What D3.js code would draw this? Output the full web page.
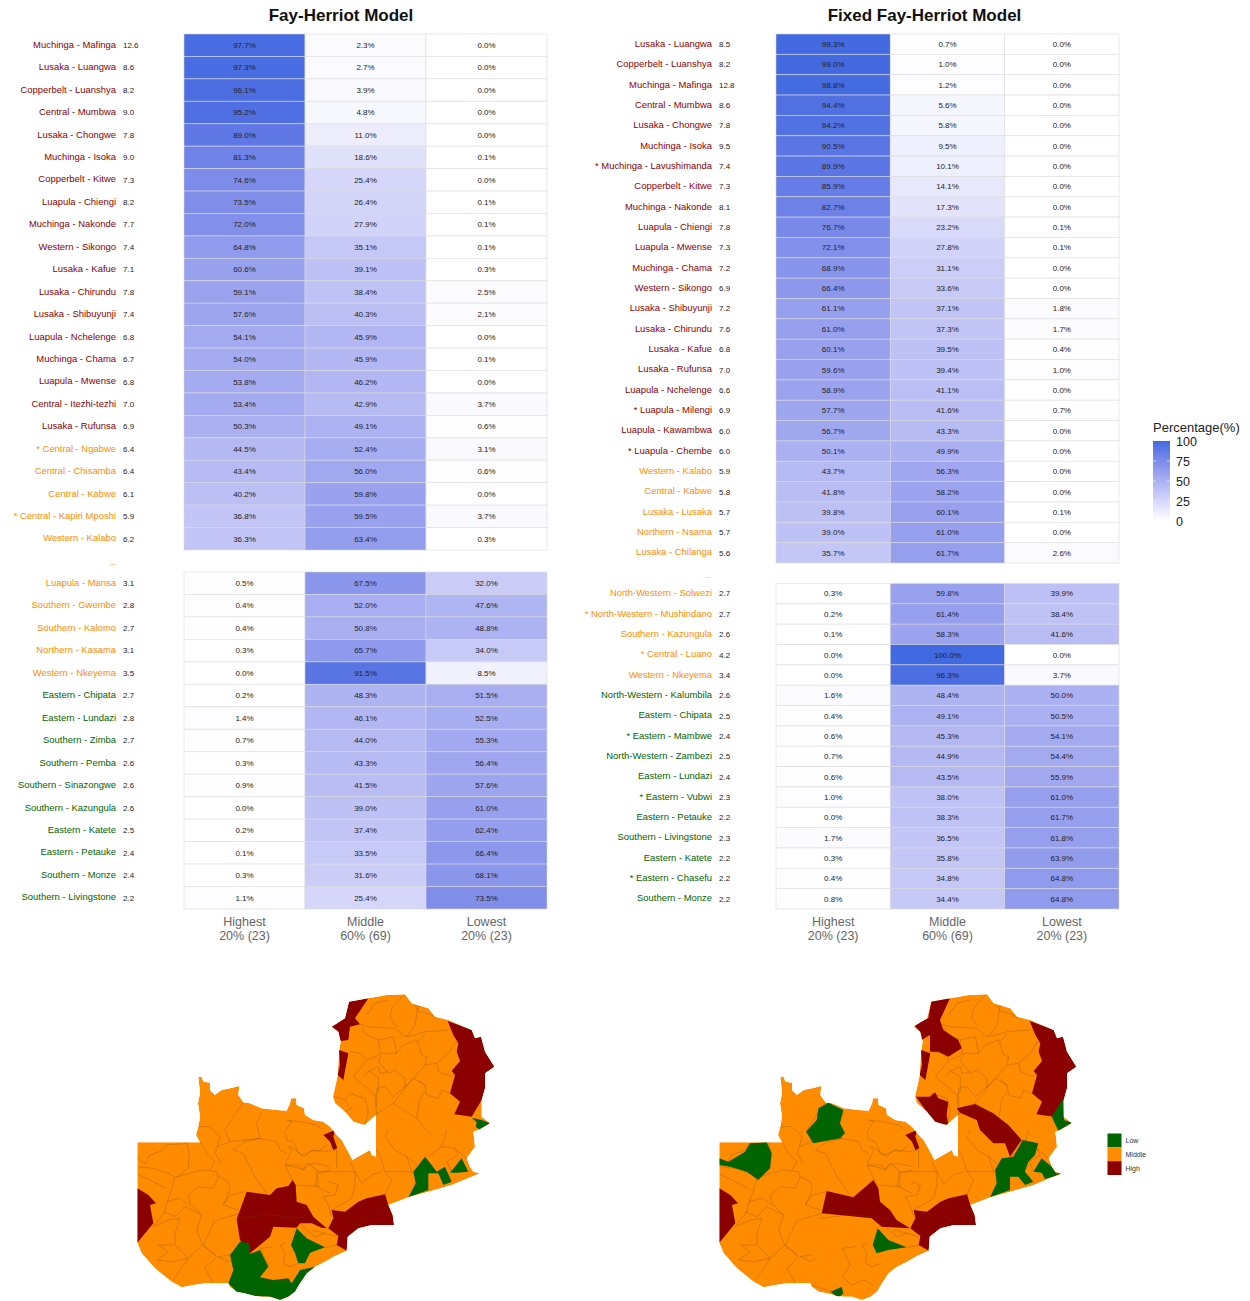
<!DOCTYPE html>
<html>
<head>
<meta charset="utf-8">
<script src="https://d3js.org/d3.v7.min.js"></script>
<style>
  html, body { margin: 0; padding: 0; background: #fff; }
  svg { display: block; font-family: "Liberation Sans", Arial, sans-serif; }
</style>
</head>
<body>
<div id="chart"></div>
<script>
// ---- Fay-Herriot, top block
var fhTopLabels = ["Muchinga - Mafinga","Lusaka - Luangwa","Copperbelt - Luanshya","Central - Mumbwa","Lusaka - Chongwe","Muchinga - Isoka","Copperbelt - Kitwe","Luapula - Chiengi","Muchinga - Nakonde","Western - Sikongo","Lusaka - Kafue","Lusaka - Chirundu","Lusaka - Shibuyunji","Luapula - Nchelenge","Muchinga - Chama","Luapula - Mwense","Central - Itezhi-tezhi","Lusaka - Rufunsa","* Central - Ngabwe","Central - Chisamba","Central - Kabwe","* Central - Kapiri Mposhi","Western - Kalabo"];
var fhTopMeans = [12.6,8.6,8.2,9.0,7.8,9.0,7.3,8.2,7.7,7.4,7.1,7.8,7.4,6.8,6.7,6.8,7.0,6.9,6.4,6.4,6.1,5.9,6.2];
var fhTopHighest = [97.7,97.3,96.1,95.2,89.0,81.3,74.6,73.5,72.0,64.8,60.6,59.1,57.6,54.1,54.0,53.8,53.4,50.3,44.5,43.4,40.2,36.8,36.3];
var fhTopMiddle = [2.3,2.7,3.9,4.8,11.0,18.6,25.4,26.4,27.9,35.1,39.1,38.4,40.3,45.9,45.9,46.2,42.9,49.1,52.4,56.0,59.8,59.5,63.4];
var fhTopLowest = [0.0,0.0,0.0,0.0,0.0,0.1,0.0,0.1,0.1,0.1,0.3,2.5,2.1,0.0,0.1,0.0,3.7,0.6,3.1,0.6,0.0,3.7,0.3];
var fhTopClasses = ["High","High","High","High","High","High","High","High","High","High","High","High","High","High","High","High","High","High","Middle","Middle","Middle","Middle","Middle"];

// ---- Fay-Herriot, bottom block
var fhBottomLabels = ["Luapula - Mansa","Southern - Gwembe","Southern - Kalomo","Northern - Kasama","Western - Nkeyema","Eastern - Chipata","Eastern - Lundazi","Southern - Zimba","Southern - Pemba","Southern - Sinazongwe","Southern - Kazungula","Eastern - Katete","Eastern - Petauke","Southern - Monze","Southern - Livingstone"];
var fhBottomMeans = [3.1,2.8,2.7,3.1,3.5,2.7,2.8,2.7,2.6,2.6,2.6,2.5,2.4,2.4,2.2];
var fhBottomHighest = [0.5,0.4,0.4,0.3,0.0,0.2,1.4,0.7,0.3,0.9,0.0,0.2,0.1,0.3,1.1];
var fhBottomMiddle = [67.5,52.0,50.8,65.7,91.5,48.3,46.1,44.0,43.3,41.5,39.0,37.4,33.5,31.6,25.4];
var fhBottomLowest = [32.0,47.6,48.8,34.0,8.5,51.5,52.5,55.3,56.4,57.6,61.0,62.4,66.4,68.1,73.5];
var fhBottomClasses = ["Middle","Middle","Middle","Middle","Middle","Low","Low","Low","Low","Low","Low","Low","Low","Low","Low"];

// ---- Fixed Fay-Herriot, top block
var ffhTopLabels = ["Lusaka - Luangwa","Copperbelt - Luanshya","Muchinga - Mafinga","Central - Mumbwa","Lusaka - Chongwe","Muchinga - Isoka","* Muchinga - Lavushimanda","Copperbelt - Kitwe","Muchinga - Nakonde","Luapula - Chiengi","Luapula - Mwense","Muchinga - Chama","Western - Sikongo","Lusaka - Shibuyunji","Lusaka - Chirundu","Lusaka - Kafue","Lusaka - Rufunsa","Luapula - Nchelenge","* Luapula - Milengi","Luapula - Kawambwa","* Luapula - Chembe","Western - Kalabo","Central - Kabwe","Lusaka - Lusaka","Northern - Nsama","Lusaka - Chilanga"];
var ffhTopMeans = [8.5,8.2,12.8,8.6,7.8,9.5,7.4,7.3,8.1,7.8,7.3,7.2,6.9,7.2,7.6,6.8,7.0,6.6,6.9,6.0,6.0,5.9,5.8,5.7,5.7,5.6];
var ffhTopHighest = [99.3,99.0,98.8,94.4,94.2,90.5,89.9,85.9,82.7,76.7,72.1,68.9,66.4,61.1,61.0,60.1,59.6,58.9,57.7,56.7,50.1,43.7,41.8,39.8,39.0,35.7];
var ffhTopMiddle = [0.7,1.0,1.2,5.6,5.8,9.5,10.1,14.1,17.3,23.2,27.8,31.1,33.6,37.1,37.3,39.5,39.4,41.1,41.6,43.3,49.9,56.3,58.2,60.1,61.0,61.7];
var ffhTopLowest = [0.0,0.0,0.0,0.0,0.0,0.0,0.0,0.0,0.0,0.1,0.1,0.0,0.0,1.8,1.7,0.4,1.0,0.0,0.7,0.0,0.0,0.0,0.0,0.1,0.0,2.6];
var ffhTopClasses = ["High","High","High","High","High","High","High","High","High","High","High","High","High","High","High","High","High","High","High","High","High","Middle","Middle","Middle","Middle","Middle"];

// ---- Fixed Fay-Herriot, bottom block
var ffhBottomLabels = ["North-Western - Solwezi","* North-Western - Mushindano","Southern - Kazungula","* Central - Luano","Western - Nkeyema","North-Western - Kalumbila","Eastern - Chipata","* Eastern - Mambwe","North-Western - Zambezi","Eastern - Lundazi","* Eastern - Vubwi","Eastern - Petauke","Southern - Livingstone","Eastern - Katete","* Eastern - Chasefu","Southern - Monze"];
var ffhBottomMeans = [2.7,2.7,2.6,4.2,3.4,2.6,2.5,2.4,2.5,2.4,2.3,2.2,2.3,2.2,2.2,2.2];
var ffhBottomHighest = [0.3,0.2,0.1,0.0,0.0,1.6,0.4,0.6,0.7,0.6,1.0,0.0,1.7,0.3,0.4,0.8];
var ffhBottomMiddle = [59.8,61.4,58.3,100.0,96.3,48.4,49.1,45.3,44.9,43.5,38.0,38.3,36.5,35.8,34.8,34.4];
var ffhBottomLowest = [39.9,38.4,41.6,0.0,3.7,50.0,50.5,54.1,54.4,55.9,61.0,61.7,61.8,63.9,64.8,64.8];
var ffhBottomClasses = ["Middle","Middle","Middle","Middle","Middle","Low","Low","Low","Low","Low","Low","Low","Low","Low","Low","Low"];

var columns = ["Highest","Middle","Lowest"];
var columnShares = ["20% (23)","60% (69)","20% (23)"];
var legendTicks = [0,25,50,75,100];
var mapLegendClasses = ["Low","Middle","High"];

// ---- map geometry, in map units (shared by both maps)
var countryOutline = [[52,487],[240,487],[228,465],[235,440],[240,410],[234,370],[240,340],[235,290],[245,290],[250,305],[270,308],[270,330],[285,345],[305,330],[330,325],[358,318],[355,345],[370,367],[390,370],[425,385],[470,390],[500,392],[510,370],[513,355],[528,355],[530,375],[552,385],[555,405],[580,420],[610,425],[630,440],[650,465],[665,480],[690,525],[697,540],[750,510],[755,525],[768,530],[768,405],[745,425],[733,435],[700,425],[675,395],[645,370],[639,350],[650,300],[653,285],[657,215],[662,185],[655,155],[635,140],[675,115],[687,65],[745,55],[800,45],[855,43],[875,70],[925,85],[945,110],[985,120],[1055,150],[1065,175],[1083,170],[1095,215],[1123,260],[1095,280],[1095,325],[1085,360],[1085,410],[1110,430],[1075,450],[1060,455],[1065,500],[1040,535],[1050,560],[1060,575],[1080,580],[995,615],[925,635],[865,652],[805,675],[818,705],[822,735],[755,735],[715,745],[683,770],[680,812],[645,828],[615,845],[585,860],[560,880],[540,910],[525,935],[505,950],[480,960],[450,950],[425,950],[405,948],[375,940],[350,935],[330,920],[325,910],[285,910],[255,910],[220,915],[185,922],[155,905],[105,865],[65,820],[52,788]];

// boundaries traced in three overlapping sheets, each with its own origin in map units
var linesWestSheet = { du: 30, dv: 270, lines: [
  [[22,265],[45,280],[60,255],[100,240],[110,225],[170,220],[178,250],[175,295],[140,322]],
  [[22,290],[70,295],[115,310],[135,322],[215,300],[260,305],[265,320],[295,335],[300,360],[280,405],[325,420]],
  [[22,312],[90,345],[107,355]],
  [[135,322],[125,360],[110,400],[105,425],[70,470]],
  [[175,375],[205,350],[250,355],[265,320]],
  [[175,375],[180,400],[215,435],[200,480],[218,525]],
  [[110,395],[150,385],[180,405]],
  [[280,405],[300,375],[345,365]],
  [[100,425],[135,440],[165,410],[215,435]],
  [[70,470],[115,450],[150,445],[135,490],[135,525],[175,565],[130,630]],
  [[85,525],[130,525]],
  [[85,525],[115,545],[80,570],[125,575],[175,565],[218,525],[255,555]],
  [[255,450],[220,525],[260,560],[225,595],[250,640]],
  [[265,560],[295,575],[315,565]],
  [[300,555],[265,560]],
  [[330,430],[260,450]],
  [[198,170],[240,170],[270,200],[262,230],[300,215],[285,180],[320,125],[340,97]],
  [[210,215],[230,250],[255,275],[240,300]],
  [[262,230],[255,250],[265,265],[270,280]],
  [[300,215],[390,205],[345,215],[310,240],[340,250],[375,320],[410,370]],
  [[390,205],[380,160],[395,125]],
  [[385,205],[440,215],[450,240],[470,250]],
  [[470,150],[485,155],[465,185],[470,210],[490,215],[505,250],[525,260],[545,240],[565,245],[590,225]],
  [[465,285],[510,285],[520,300],[530,285],[555,280],[600,290]],
  [[465,285],[495,345]],
  [[470,150],[510,155],[560,165],[580,180]],
  [[600,300],[565,310],[555,345],[580,360],[600,370]]
]};
var linesNorthSheet = { du: 615, dv: 15, lines: [
  [[105,118],[130,125],[210,130],[240,155],[270,150],[300,140],[370,135]],
  [[125,90],[150,55],[190,45]],
  [[235,30],[200,70],[195,100],[215,125]],
  [[270,60],[280,80],[310,85],[335,100]],
  [[280,60],[270,120],[245,155]],
  [[110,130],[125,150],[160,165],[165,205],[155,215],[125,225],[85,275]],
  [[75,200],[105,205],[125,225]],
  [[160,165],[205,155],[215,205],[235,180],[275,165],[290,210],[305,215],[300,240],[265,280],[235,310]],
  [[215,205],[170,205],[160,230],[190,265],[210,255],[240,280],[240,310]],
  [[85,275],[115,300],[150,330],[155,390]],
  [[115,275],[130,258],[160,275],[160,320],[150,330]],
  [[130,258],[160,245],[165,265],[190,260]],
  [[155,365],[155,310],[180,305],[205,335],[235,310]],
  [[30,335],[60,345],[75,325],[120,340],[130,380],[120,420]],
  [[60,350],[80,370],[60,380]],
  [[150,390],[205,355],[240,310],[265,280],[300,300],[305,330],[340,340],[350,315],[375,325]],
  [[205,355],[275,400],[300,430],[320,450]],
  [[280,285],[300,300]],
  [[275,400],[285,340],[300,320]],
  [[300,240],[335,235],[340,260],[380,275],[390,260]],
  [[335,235],[375,200],[390,170],[400,175]],
  [[280,170],[300,145]]
]};
var linesSouthEastSheet = { du: 315, dv: 450, lines: [
  [[453,60],[465,75],[480,125],[565,125]],
  [[480,125],[500,150],[480,195]],
  [[490,0],[480,20],[510,60],[545,80],[560,125]],
  [[575,105],[545,80]],
  [[610,80],[650,50],[665,0]],
  [[650,50],[690,55],[730,90]],
  [[690,55],[700,75],[665,95],[680,125]],
  [[375,95],[390,125],[390,165],[380,205],[320,240]],
  [[390,125],[410,160],[440,135],[470,125]],
  [[275,125],[340,125],[390,125]],
  [[310,155],[340,165],[330,195],[295,200],[310,225],[320,260]],
  [[275,125],[280,170],[210,165]],
  [[180,105],[225,115],[235,120],[250,100],[280,125]],
  [[180,105],[200,60],[190,50],[205,55],[230,75],[270,60],[300,65],[335,60],[335,115]],
  [[225,280],[270,320],[300,310],[335,320]],
  [[260,300],[300,310]],
  [[300,352],[340,345]],
  [[180,340],[165,345],[180,370],[175,400],[195,410],[220,400]],
  [[145,350],[105,355],[130,405],[105,440]],
  [[35,265],[130,255],[215,262],[250,265]],
  [[360,245],[400,290],[490,225]],
  [[10,465],[60,480],[100,490],[85,500]],
  [[110,445],[135,465],[170,450],[200,465]]
]};

// areas that keep the same class in both models
var areaEastHigh = [[983,123],[1055,150],[1065,175],[1083,170],[1095,215],[1123,260],[1095,280],[1095,325],[1085,360],[1055,410],[1003,403],[1020,365],[990,340],[1005,285],[995,273],[1020,243],[1010,215],[1015,190],[1000,165]];
var areaKitwe = [[610,465],[645,450],[640,470],[652,505],[640,510],[630,485]];
var areaSikongo = [[52,625],[85,645],[108,670],[90,675],[100,730],[52,788]];
var areaLusakaEast = [[635,690],[675,695],[715,665],[740,655],[795,643],[805,675],[818,705],[822,735],[755,735],[715,745],[683,770],[680,812],[650,795],[655,768],[625,745],[640,715]];
var areaMwense = [[657,210],[685,220],[670,300],[653,285],[660,255]];

var fhHighAreas = [
  [[687,65],[745,55],[705,115],[720,133],[690,140],[685,180],[662,183],[655,155],[635,140],[675,115]],
  areaMwense, areaEastHigh, areaKitwe, areaSikongo, areaLusakaEast,
  [[380,635],[450,645],[470,625],[505,618],[518,600],[527,615],[530,665],[560,675],[580,710],[620,745],[605,743],[575,730],[540,730],[530,743],[460,740],[450,770],[390,820],[360,780],[350,718],[360,690]]
];
var fhLowAreas = [
  [[360,785],[388,790],[390,822],[420,810],[445,860],[420,892],[460,900],[505,895],[515,910],[540,870],[585,860],[540,910],[525,935],[505,950],[480,960],[450,950],[405,948],[350,935],[325,910],[340,870],[330,825]],
  [[530,745],[560,775],[615,802],[570,818],[555,850],[535,850],[525,820],[513,795]],
  [[880,575],[915,530],[935,555],[950,575],[975,560],[995,605],[970,615],[955,580],[925,580],[925,630],[865,652],[887,610]],
  [[990,578],[1025,535],[1045,575],[1010,578]],
  [[1055,413],[1085,420],[1110,430],[1080,450],[1067,440],[1070,427]]
];
var ffhHighAreas = [
  [[689,60],[744,55],[714,120],[724,150],[769,180],[779,205],[739,230],[709,215],[684,215],[684,165],[659,180],[649,150],[636,135],[679,115]],
  areaMwense, areaEastHigh, areaKitwe, areaSikongo, areaLusakaEast,
  [[642,350],[684,350],[699,337],[709,355],[739,365],[734,405],[739,435],[699,430],[674,395]],
  [[764,385],[819,372],[874,400],[919,435],[959,480],[924,530],[909,490],[874,490],[834,450],[824,420],[774,398]],
  [[374,633],[454,652],[489,622],[514,600],[529,625],[534,665],[564,690],[584,720],[624,745],[539,740],[509,715],[359,700]]
];
var ffhLowAreas = [
  [[379,368],[424,390],[414,430],[429,460],[414,475],[334,490],[312,455],[344,420],[349,385]],
  [[52,535],[79,545],[129,515],[144,490],[194,487],[209,520],[204,565],[169,600],[134,575],[84,560],[52,555]],
  [[962,480],[1009,490],[999,525],[979,545],[969,575],[994,605],[969,615],[949,590],[924,590],[924,630],[864,652],[884,610],[879,570],[899,535],[934,530]],
  [[994,575],[1019,535],[1049,560],[1062,580],[1080,582],[1029,597],[1019,578]],
  [[1084,355],[1086,420],[1110,428],[1069,452],[1049,410]],
  [[527,745],[559,780],[614,802],[559,810],[524,820],[512,795]],
  [[386,935],[419,920],[424,940],[409,955]]
];

function sheetLines(sheet){
  return sheet.lines.map(function(line){
    return line.map(function(p){ return [p[0] + sheet.du, p[1] + sheet.dv]; });
  });
}
var districtLines = sheetLines(linesWestSheet).concat(sheetLines(linesNorthSheet), sheetLines(linesSouthEastSheet));

var classColor = d3.scaleOrdinal().domain(["Low","Middle","High"]).range(["#006400","#FF8C00","#8B0000"]);
var fillScale = d3.scaleLinear().domain([0,100]).range(["#FFFFFF","#4169E1"]).interpolate(d3.interpolateLab);
var pctFormat = d3.format(".1f");
var meanFormat = d3.format(".1f");

var width = 1250, height = 1301;
var svg = d3.select("#chart").append("svg").attr("width", width).attr("height", height);

function drawBlock(g, opt){
  var y = d3.scaleBand().domain(opt.labels).range(opt.yRange);
  var x = opt.x;
  var rows = opt.labels.map(function(label, i){
    return { label: label, mean: opt.means[i], cls: opt.classes[i], vals: [opt.highest[i], opt.middle[i], opt.lowest[i]] };
  });
  var row = g.selectAll("g.row").data(rows).enter().append("g")
    .attr("class", "row")
    .attr("transform", function(d){ return "translate(0," + y(d.label) + ")"; });
  var cell = row.selectAll("g.cell").data(function(d){
    return columns.map(function(c, j){ return { col: c, val: d.vals[j] }; });
  }).enter().append("g").attr("class", "cell");
  cell.append("rect")
    .attr("x", function(d){ return x(d.col); })
    .attr("width", x.bandwidth())
    .attr("height", y.bandwidth())
    .attr("fill", function(d){ return fillScale(d.val); })
    .attr("stroke", "#dcdcdc")
    .attr("stroke-opacity", 0.7)
    .attr("stroke-width", 0.8);
  cell.append("text")
    .attr("x", function(d){ return x(d.col) + x.bandwidth() / 2; })
    .attr("y", y.bandwidth() / 2)
    .attr("dy", "0.35em")
    .attr("text-anchor", "middle")
    .attr("font-size", 8)
    .attr("fill", "#222")
    .text(function(d){ return pctFormat(d.val) + "%"; });
  row.append("text")
    .attr("x", opt.labelX)
    .attr("y", y.bandwidth() / 2)
    .attr("dy", "0.28em")
    .attr("text-anchor", "end")
    .attr("font-size", 9.45)
    .attr("fill", function(d){ return classColor(d.cls); })
    .text(function(d){ return d.label; });
  row.append("text")
    .attr("x", opt.labelX + 7)
    .attr("y", y.bandwidth() / 2)
    .attr("dy", "0.35em")
    .attr("font-size", 8)
    .attr("fill", "#222")
    .text(function(d){ return meanFormat(d.mean); });
}

function drawPanel(opt){
  var g = svg.append("g");
  var x = d3.scaleBand().domain(columns).range(opt.xRange);
  g.append("text")
    .attr("x", opt.titleX).attr("y", 20.5)
    .attr("text-anchor", "middle")
    .attr("font-size", 17).attr("font-weight", "bold")
    .attr("fill", "#111")
    .text(opt.title);
  drawBlock(g.append("g"), {
    labels: opt.top.labels, means: opt.top.means, classes: opt.top.classes,
    highest: opt.top.highest, middle: opt.top.middle, lowest: opt.top.lowest,
    x: x, yRange: opt.topY, labelX: opt.labelX
  });
  drawBlock(g.append("g"), {
    labels: opt.bottom.labels, means: opt.bottom.means, classes: opt.bottom.classes,
    highest: opt.bottom.highest, middle: opt.bottom.middle, lowest: opt.bottom.lowest,
    x: x, yRange: opt.bottomY, labelX: opt.labelX
  });
  g.append("text")
    .attr("x", opt.labelX).attr("y", opt.dotsY)
    .attr("text-anchor", "end")
    .attr("font-size", 8).attr("fill", "#FF8C00")
    .text("...");
  // column labels through a bottom axis, second line added as tspan
  var axis = g.append("g")
    .attr("transform", "translate(0," + opt.bottomY[1] + ")")
    .call(d3.axisBottom(x).tickSize(0).tickPadding(8.5));
  axis.select(".domain").remove();
  axis.selectAll("text")
    .attr("font-size", 12.5).attr("fill", "#666")
    .attr("font-family", "Liberation Sans")
    .each(function(d, i){
      var t = d3.select(this);
      t.append("tspan").attr("x", 0).attr("dy", "1.12em").text(columnShares[i]);
    });
}

drawPanel({
  title: "Fay-Herriot Model", titleX: 341, xRange: [184, 547], labelX: 116,
  topY: [34, 550], bottomY: [572, 909], dotsY: 565,
  top: { labels: fhTopLabels, means: fhTopMeans, classes: fhTopClasses, highest: fhTopHighest, middle: fhTopMiddle, lowest: fhTopLowest },
  bottom: { labels: fhBottomLabels, means: fhBottomMeans, classes: fhBottomClasses, highest: fhBottomHighest, middle: fhBottomMiddle, lowest: fhBottomLowest }
});
drawPanel({
  title: "Fixed Fay-Herriot Model", titleX: 924.5, xRange: [776, 1119], labelX: 712,
  topY: [34, 563], bottomY: [583.5, 909], dotsY: 578,
  top: { labels: ffhTopLabels, means: ffhTopMeans, classes: ffhTopClasses, highest: ffhTopHighest, middle: ffhTopMiddle, lowest: ffhTopLowest },
  bottom: { labels: ffhBottomLabels, means: ffhBottomMeans, classes: ffhBottomClasses, highest: ffhBottomHighest, middle: ffhBottomMiddle, lowest: ffhBottomLowest }
});

// colour bar legend
var defs = svg.append("defs");
var grad = defs.append("linearGradient").attr("id", "pctGrad")
  .attr("x1", 0).attr("y1", 1).attr("x2", 0).attr("y2", 0);
d3.range(0, 101, 10).forEach(function(v){
  grad.append("stop").attr("offset", v + "%").attr("stop-color", fillScale(v));
});
var legendY = d3.scaleLinear().domain([0,100]).range([521,441]);
var legend = svg.append("g");
legend.append("text").attr("x", 1153).attr("y", 432).attr("font-size", 13).attr("fill", "#222").text("Percentage(%)");
legend.append("rect").attr("x", 1153).attr("y", legendY(100)).attr("width", 17).attr("height", legendY(0) - legendY(100)).attr("fill", "url(#pctGrad)");
var legendAxis = legend.append("g").attr("transform", "translate(1170,0)")
  .call(d3.axisRight(legendY).tickValues(legendTicks).tickSize(0).tickPadding(6));
legendAxis.select(".domain").remove();
legendAxis.selectAll("text").attr("font-size", 12.5).attr("fill", "#222").attr("font-family", "Liberation Sans");
legend.selectAll("line.barTick").data(legendTicks.slice(1, 4)).enter().append("line")
  .attr("class", "barTick")
  .attr("x1", 1153).attr("x2", 1156).attr("y1", legendY).attr("y2", legendY)
  .attr("stroke", "#fff").attr("stroke-width", 0.6);
legend.selectAll("line.barTick2").data(legendTicks.slice(1, 4)).enter().append("line")
  .attr("class", "barTick2")
  .attr("x1", 1167).attr("x2", 1170).attr("y1", legendY).attr("y2", legendY)
  .attr("stroke", "#fff").attr("stroke-width", 0.6);

// maps
var mapY = d3.scaleLinear().domain([0,963]).range([980,1301]);

function drawMap(id, dx, highAreas, lowAreas){
  var mapX = d3.scaleLinear().domain([0,1200]).range([120 + dx, 520 + dx]);
  var open = d3.line().x(function(p){ return mapX(p[0]); }).y(function(p){ return mapY(p[1]); });
  var closed = d3.line().x(function(p){ return mapX(p[0]); }).y(function(p){ return mapY(p[1]); }).curve(d3.curveLinearClosed);
  defs.append("clipPath").attr("id", id).append("path").attr("d", closed(countryOutline));
  var g = svg.append("g").attr("clip-path", "url(#" + id + ")");
  g.append("path").attr("d", closed(countryOutline)).attr("fill", classColor("Middle"));
  g.selectAll("path.high").data(highAreas).enter().append("path")
    .attr("class", "high").attr("d", closed).attr("fill", classColor("High"));
  g.selectAll("path.low").data(lowAreas).enter().append("path")
    .attr("class", "low").attr("d", closed).attr("fill", classColor("Low"));
  g.selectAll("path.district").data(districtLines).enter().append("path")
    .attr("class", "district").attr("d", open)
    .attr("fill", "none").attr("stroke", "#6e4500").attr("stroke-opacity", 0.55).attr("stroke-width", 0.5);
}
drawMap("clipFh", 0, fhHighAreas, fhLowAreas);
drawMap("clipFfh", 582, ffhHighAreas, ffhLowAreas);

// map legend
var swatchY = d3.scaleBand().domain(mapLegendClasses).range([1133.5,1175]);
var mapLegend = svg.append("g").selectAll("g").data(mapLegendClasses).enter().append("g");
mapLegend.append("rect")
  .attr("x", 1107.5).attr("y", function(d){ return swatchY(d); })
  .attr("width", 14).attr("height", swatchY.bandwidth())
  .attr("fill", function(d){ return classColor(d); });
mapLegend.append("text")
  .attr("x", 1125.5).attr("y", function(d){ return swatchY(d) + swatchY.bandwidth() / 2; })
  .attr("dy", "0.35em").attr("font-size", 7).attr("fill", "#333")
  .text(function(d){ return d; });
</script>
</body>
</html>
